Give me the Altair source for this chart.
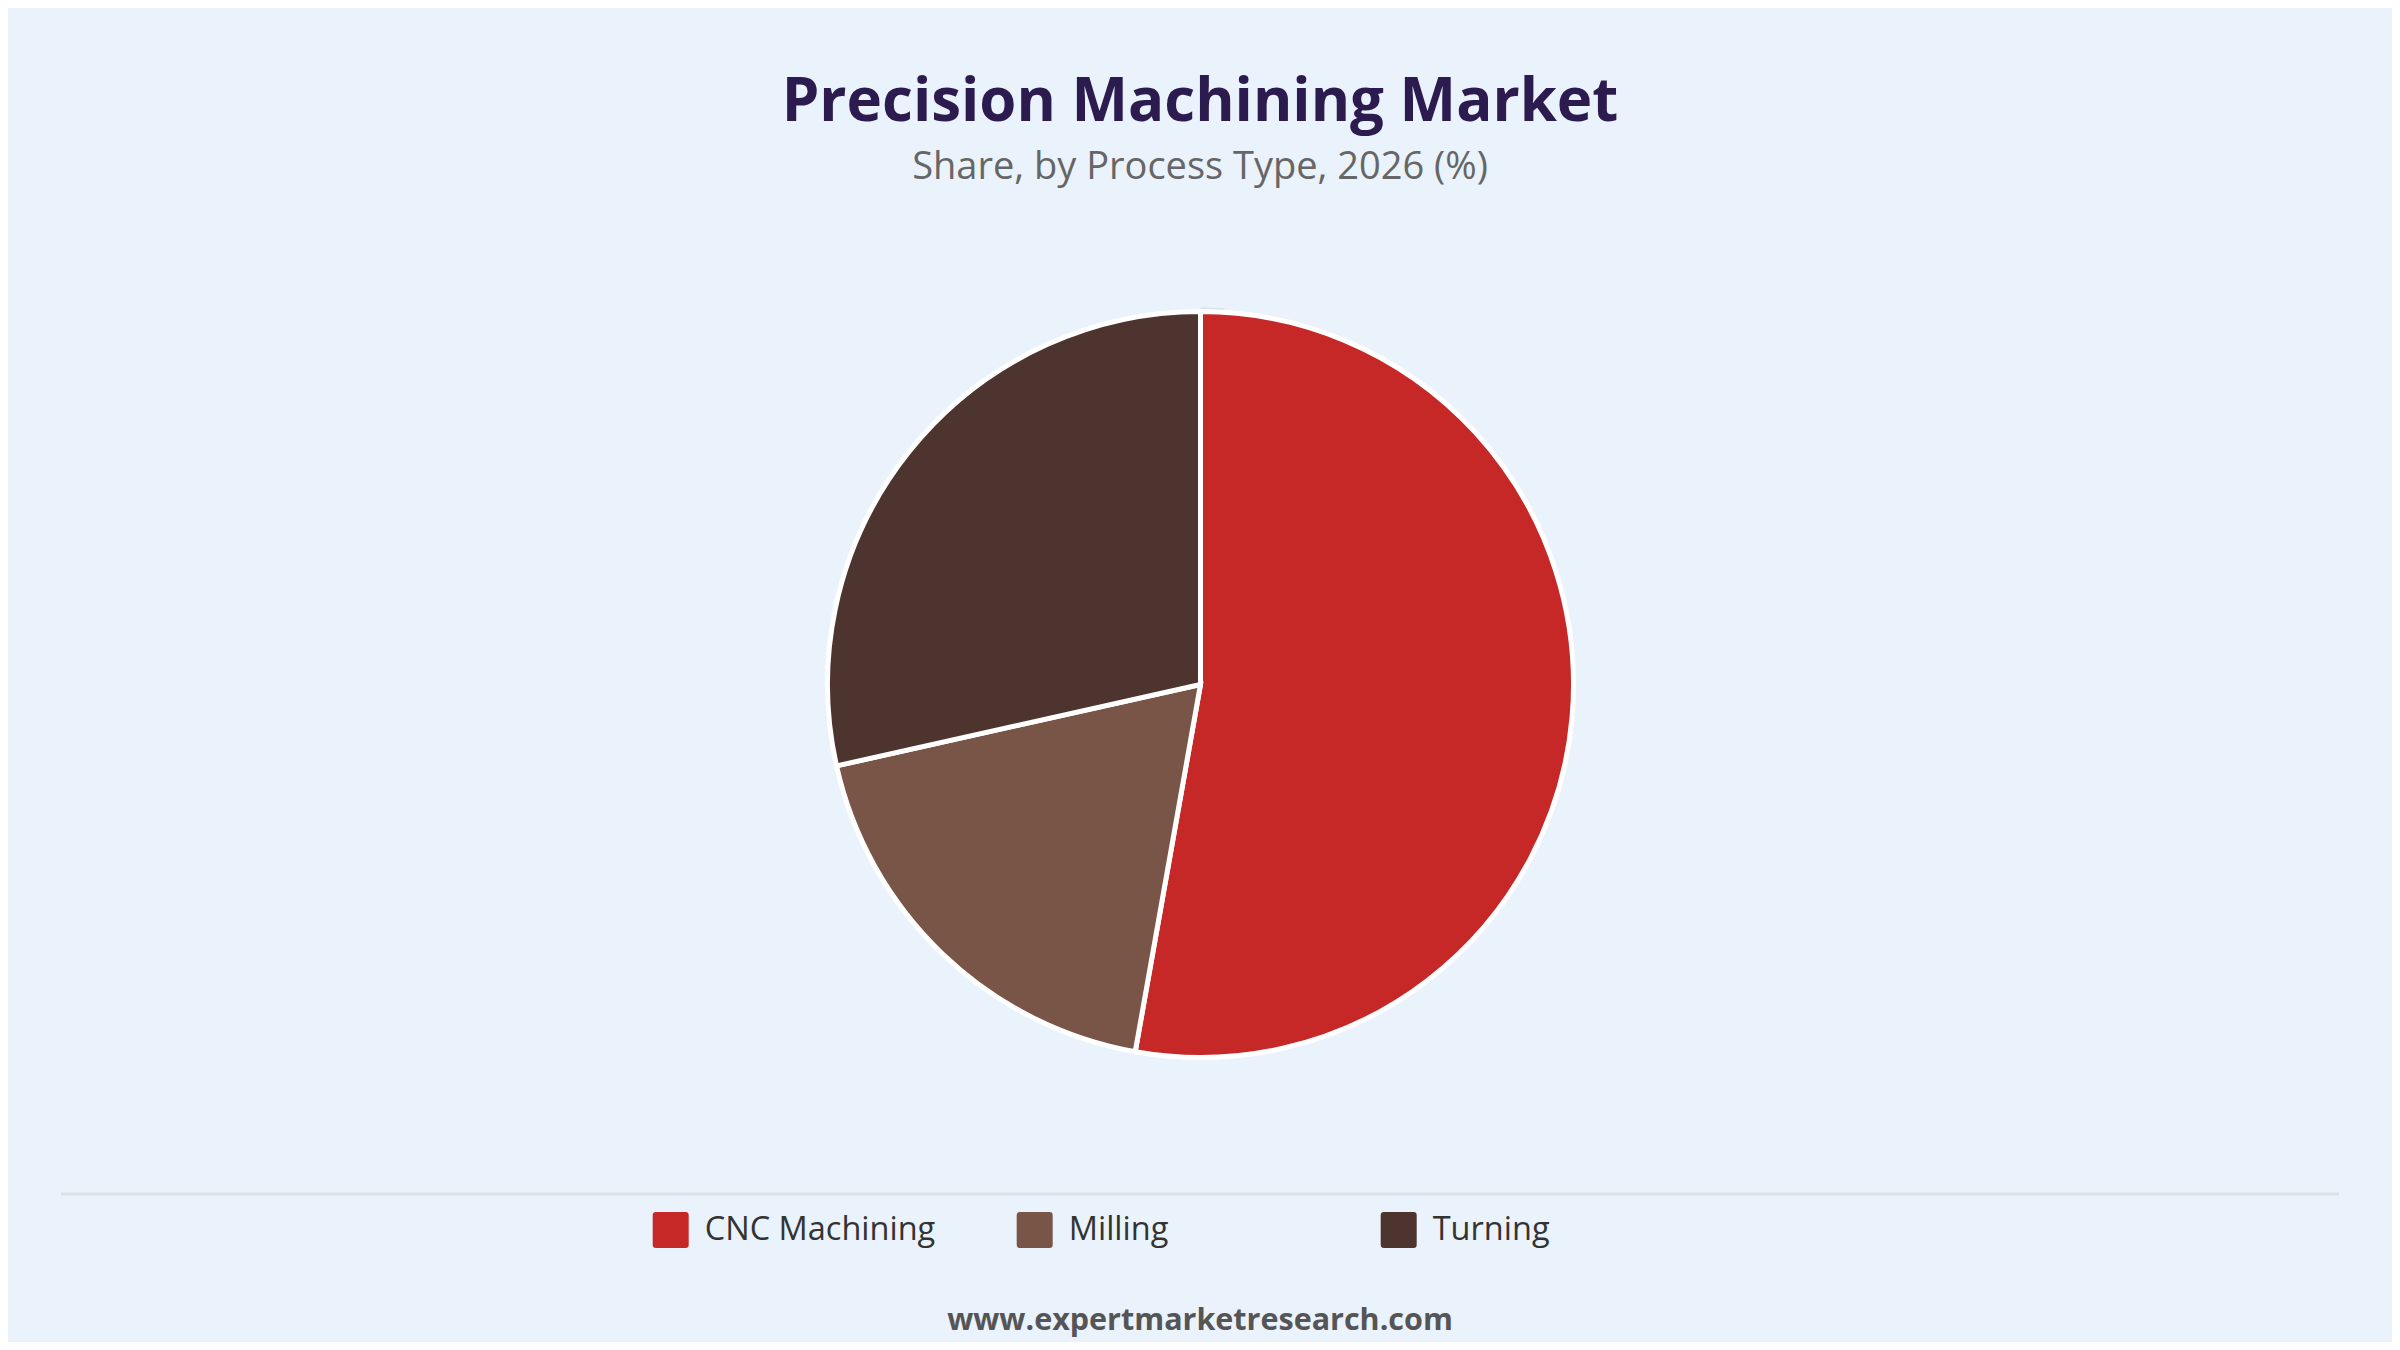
import altair as alt
import pandas as pd

# ---- data ----
categories = ["CNC Machining", "Milling", "Turning"]
shares = [52.8, 18.7, 28.5]
colors = ["#C62828", "#795548", "#4E342E"]

title_text = "Precision Machining Market"
subtitle_text = "Share, by Process Type, 2026 (%)"
footer_text = "www.expertmarketresearch.com"

# ---- layout ----
W, H = 2384, 1334
CX, CY, R = 1192.5, 676.5, 373
BG = "#EAF2FB"
FONT = "Open Sans"

df = pd.DataFrame({"Process": categories, "Share": shares, "order": list(range(len(categories)))})

rounded_square = ("M-0.82,-1L0.82,-1Q1,-1 1,-0.82L1,0.82Q1,1 0.82,1L-0.82,1"
                  "Q-1,1 -1,0.82L-1,-0.82Q-1,-1 -0.82,-1Z")

color = alt.Color(
    "Process:N",
    scale=alt.Scale(domain=categories, range=colors),
    legend=alt.Legend(
        title=None, orient="none", legendX=644.7, legendY=1204,
        direction="horizontal", columns=3, gridAlign="all", columnPadding=81,
        symbolType=rounded_square, symbolSize=1296, symbolStrokeWidth=0,
        symbolOpacity=1, labelFont=FONT, labelFontSize=32.5, labelColor="#333333",
        labelOffset=16, labelLimit=0, padding=0, rowPadding=0,
    ),
)

shadow = alt.Chart(pd.DataFrame({"v": [1]})).mark_arc(
    radius=R + 7, color="#cdd6e2", opacity=0.6
).encode(theta=alt.Theta("v:Q"), x=alt.value(CX), y=alt.value(CY + 3))

pie = alt.Chart(df).mark_arc(stroke="white", strokeWidth=5, radius=R).encode(
    theta=alt.Theta("Share:Q", stack=True),
    color=color,
    order=alt.Order("order:Q"),
    x=alt.value(CX),
    y=alt.value(CY),
)

rule = alt.Chart(pd.DataFrame({"v": [1]})).mark_rule(color="#dcdfe3", strokeWidth=3).encode(
    x=alt.value(53), x2=alt.value(2331), y=alt.value(1186)
)

def text_layer(txt, y, size, weight, col):
    return alt.Chart(pd.DataFrame({"t": [txt]})).mark_text(
        font=FONT, fontSize=size, fontWeight=weight, color=col,
        align="center", baseline="alphabetic",
    ).encode(text="t:N", x=alt.value(1192), y=alt.value(y))

title = text_layer(title_text, 113, 60, "bold", "#2C1B4F")
subtitle = text_layer(subtitle_text, 171, 38, 500, "#666666")
footer = text_layer(footer_text, 1322, 30.5, "bold", "#555555")

chart = alt.layer(shadow, pie, rule, title, subtitle, footer).properties(
    width=W, height=H, autosize=alt.AutoSizeParams(type="none"), padding=0
).configure(background=BG).configure_view(stroke=None)

chart.save("out.html", embed_options={"renderer": "svg", "actions": False})
